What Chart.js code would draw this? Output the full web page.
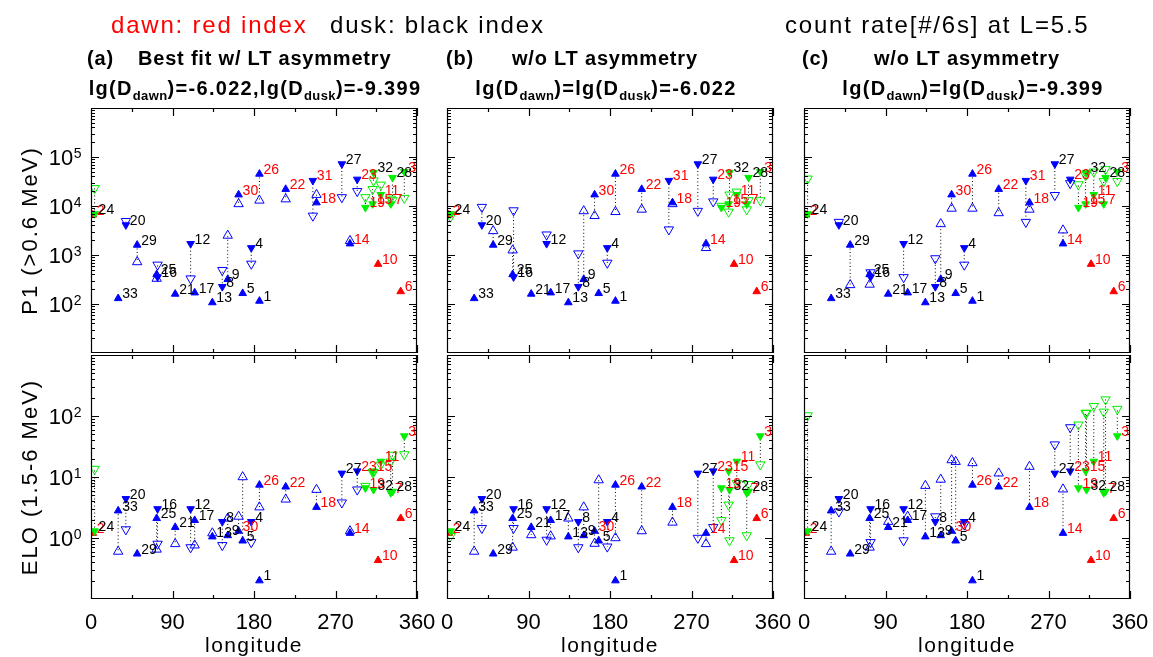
<!DOCTYPE html>
<html>
<head>
<meta charset="utf-8">
<script src="https://cdn.jsdelivr.net/npm/chart.js@4.4.1/dist/chart.umd.min.js"></script>
<style>
  html, body { margin: 0; padding: 0; background: #fff; }
  #page { position: relative; width: 1153px; height: 657px; overflow: hidden;
          font-family: "Liberation Sans", Arial, sans-serif; color: #000; }
  #page canvas { position: absolute; left: 0; top: 0; }
  .txt { position: absolute; white-space: nowrap; line-height: 1; }
  .head { font-size: 24px; letter-spacing: 1.8px; top: 12.7px; }
  .sub { font-size: 20px; font-weight: bold; letter-spacing: 0.8px; }
  .l1 { top: 48px; }
  .l2 { top: 78px; transform: translateX(-50%); letter-spacing: 1.3px; }
  .sub sub { font-size: 13px; vertical-align: -5px; letter-spacing: 0.4px; }
</style>
</head>
<body>
<div id="page">
  <canvas id="pA" width="1153" height="657"></canvas>
  <canvas id="pB" width="1153" height="657"></canvas>
  <canvas id="pC" width="1153" height="657"></canvas>
  <canvas id="eA" width="1153" height="657"></canvas>
  <canvas id="eB" width="1153" height="657"></canvas>
  <canvas id="eC" width="1153" height="657"></canvas>

  <div class="txt head" style="left:111px;color:#f00">dawn: red index</div>
  <div class="txt head" style="left:330px">dusk: black index</div>
  <div class="txt head" style="left:785px">count rate[#/6s] at L=5.5</div>

  <div class="txt sub l1" style="left:87px">(a)</div>
  <div class="txt sub l1" style="left:138px">Best fit w/ LT asymmetry</div>
  <div class="txt sub l1" style="left:446px">(b)</div>
  <div class="txt sub l1" style="left:512px">w/o LT asymmetry</div>
  <div class="txt sub l1" style="left:802px">(c)</div>
  <div class="txt sub l1" style="left:874px">w/o LT asymmetry</div>

  <div class="txt sub l2" style="left:255px">lg(D<sub>dawn</sub>)=-6.022,lg(D<sub>dusk</sub>)=-9.399</div>
  <div class="txt sub l2" style="left:606px">lg(D<sub>dawn</sub>)=lg(D<sub>dusk</sub>)=-6.022</div>
  <div class="txt sub l2" style="left:973px">lg(D<sub>dawn</sub>)=lg(D<sub>dusk</sub>)=-9.399</div>
</div>

<script>
// ---- event table (index 1..33) ----
const eventIds = Array.from({ length: 33 }, (_, i) => i + 1);

const longitude = [186, 2, 346, 177, 167.5, 342, 331, 145, 151, 317,
                   320, 110, 134, 286, 311, 73.5, 114.5, 249, 303, 38.5,
                   93, 215, 294, 4, 72.5, 186, 277, 333, 51, 163,
                   245, 312, 30];

// u = upward triangle, d = downward triangle
const markerShape = ['u','u','d','d','u','u','d','d','u','u',
                     'd','d','u','u','d','d','u','u','d','d',
                     'u','u','d','d','u','u','d','d','u','u',
                     'd','d','u'];

// b = blue, g = green, r = red (no model)
const markerColor = ['b','r','g','b','b','r','g','b','b','r',
                     'g','b','b','b','g','b','b','b','g','b',
                     'b','b','b','g','b','b','b','g','b','b',
                     'b','g','b'];

const dawnIndex = [2, 3, 6, 7, 10, 11, 14, 15, 18, 19, 22, 23, 26, 30, 31];

// ---- P1 (>0.6 MeV) count rates ----
const p1Observed = [115, 6600, 50000, 1400, 165, 180, 11000, 225, 320, 650,
                    17000, 1700, 107, 1700, 11000, 355, 170, 11700, 9300, 4100,
                    160, 22000, 35000, 6900, 400, 45000, 72000, 38000, 1600, 17000,
                    33000, 48000, 130];
const p1ModelA = [null, null, 14500, 660, null, null, 14000, 490, 2500, null,
                  27000, 330, null, 1950, 22000, 630, null, 17000, 15000, 4900,
                  null, 13800, 20000, 23000, 330, 13000, 15000, 13000, 720, 11000,
                  6300, 33000, null];
const p1ModelB = [null, null, 13000, 690, null, null, 8500, 1070, 7900, null,
                  19500, 2600, null, 1400, 7600, 8100, null, 11000, 10000, 9500,
                  null, 8500, 12300, 6000, 1250, 7600, 7900, 13000, 3100, 6300,
                  3300, 17000, null];
const p1ModelC = [null, null, 32000, 630, null, null, 32000, 850, 4300, null,
                  50000, 350, null, 3200, 42000, 440, null, 8500, 27500, 4700,
                  null, 7200, 29000, 36000, 250, 8900, 16600, 56000, 245, 8900,
                  4700, 46000, null];

// ---- ELO (1.5-6 MeV) count rates ----
const eloObserved = [0.2, 1.2, 47, 1.85, 0.9, 2.1, 5.5, 1.85, 1.1, 0.43,
                     18, 3.0, 1.05, 1.2, 12.5, 3.0, 1.95, 3.2, 6.6, 4.4,
                     1.5, 6.9, 12.5, 1.3, 2.1, 7.4, 11.5, 5.8, 0.55, 1.3,
                     null, 6.2, 2.8];
const eloModelA = [null, null, 23.5, 0.85, 10, null, 17.8, 0.76, 2.1, null,
                   15.8, 0.7, 1.2, 1.3, 12, 0.8, 0.76, 6.2, 7.1, 1.38,
                   0.8, 4.3, 6.2, 13.5, 0.65, 3.2, 3.8, 23, null, 2.25,
                   null, 12, 0.6];
const eloModelB = [null, null, 16, 0.72, 8.9, null, 1.1, 0.7, 3.2, null,
                   7.9, 0.93, 2.1, 0.8, 3.5, 1.45, 1.07, 1.8, 1.95, 1.45,
                   1.12, 1.3, 1.5, 1.07, 0.7, 1.0, 1.0, 7.6, null, 0.81,
                   null, 0.91, 0.6];
const eloModelC = [null, null, 130, 1.65, 17.8, null, 117, 2.25, 9.1, null,
                   145, 0.91, 7.2, 6.3, 112, 0.85, 2.25, 14.8, 72, 2.7,
                   1.85, 11.5, 65, 102, 0.7, 17, 34, 186, null, 19,
                   null, 112, 0.6];

// ---- axes ----
const lonTicks = [0, 90, 180, 270, 360];
const lonMinor = [45, 135, 225, 315];
const p1Decades = [2, 3, 4, 5];
const eloDecades = [0, 1, 2];
const xTitle = 'longitude';
const p1Title = 'P1 (>0.6 MeV)';
const eloTitle = 'ELO (1.5-6 MeV)';

const FONT = '"Liberation Sans", Arial, sans-serif';
const MARK = { b: '#0000ff', g: '#00ee00', r: '#ff0000' };

const colLeft = [91, 447, 804];
const colRight = [417, 773, 1130];
const rowTop = [108, 355];
const rowBottom = [353, 599];

// inward IDL-style frame ticks on all four sides
const frameTicks = {
  id: 'frameTicks',
  afterDatasetsDraw(chart) {
    const { ctx, chartArea: a, scales: { x, y } } = chart;
    ctx.save();
    ctx.strokeStyle = '#000';
    ctx.lineWidth = 1.2;
    ctx.beginPath();
    ctx.rect(a.left + 0.5, a.top + 0.5, a.right - a.left - 1, a.bottom - a.top - 1);
    const xt = (v, len) => {
      const px = Math.round(x.getPixelForValue(v)) + 0.5;
      ctx.moveTo(px, a.bottom); ctx.lineTo(px, a.bottom - len);
      ctx.moveTo(px, a.top); ctx.lineTo(px, a.top + len);
    };
    lonTicks.forEach(v => xt(v, 8));
    lonMinor.forEach(v => xt(v, 4));
    const lo = Math.round(Math.log10(y.min)), hi = Math.round(Math.log10(y.max));
    for (let k = lo; k <= hi; k++) {
      for (let m = 1; m <= 9; m++) {
        const v = m * Math.pow(10, k);
        if (v <= y.min * 1.0001 || v >= y.max * 0.9999) continue;
        const len = m === 1 ? 8 : 4;
        const py = Math.round(y.getPixelForValue(v)) + 0.5;
        ctx.moveTo(a.left, py); ctx.lineTo(a.left + len, py);
        ctx.moveTo(a.right, py); ctx.lineTo(a.right - len, py);
      }
    }
    ctx.stroke();
    ctx.restore();
  }
};

// event numbers next to the observed markers
const indexLabels = {
  id: 'indexLabels',
  afterDatasetsDraw(chart, args, opts) {
    const { ctx, scales: { x, y } } = chart;
    ctx.save();
    ctx.font = '14px ' + FONT;
    ctx.textBaseline = 'middle';
    ctx.textAlign = 'left';
    opts.items.forEach(it => {
      ctx.fillStyle = it.color;
      ctx.fillText(it.text, x.getPixelForValue(it.x) + 4, y.getPixelForValue(it.y) - 4);
    });
    ctx.restore();
  }
};

// power-of-ten tick labels, axis titles
const axisText = {
  id: 'axisText',
  afterDraw(chart, args, opts) {
    const { ctx, chartArea: a, scales: { x, y } } = chart;
    ctx.save();
    ctx.fillStyle = '#000';
    ctx.textBaseline = 'alphabetic';
    if (opts.decades) {
      opts.decades.forEach(k => {
        const py = y.getPixelForValue(Math.pow(10, k));
        ctx.textAlign = 'left';
        ctx.font = '22px ' + FONT;
        const w10 = ctx.measureText('10').width;
        ctx.font = '14px ' + FONT;
        const we = ctx.measureText(String(k)).width;
        const x0 = a.left - 10 - we - w10;
        ctx.font = '22px ' + FONT;
        ctx.fillText('10', x0, py + 8);
        ctx.font = '14px ' + FONT;
        ctx.fillText(String(k), x0 + w10 + 0.5, py + 1);
      });
    }
    if (opts.title) {
      ctx.save();
      ctx.translate(37, (a.top + a.bottom) / 2);
      ctx.rotate(-Math.PI / 2);
      ctx.font = '22px ' + FONT;
      ctx.letterSpacing = '2px';
      ctx.textAlign = 'center';
      ctx.fillText(opts.title, 0, 0);
      ctx.restore();
    }
    if (opts.lonLabels) {
      ctx.textAlign = 'center';
      ctx.font = '22px ' + FONT;
      lonTicks.forEach(v => ctx.fillText(String(v), x.getPixelForValue(v), 629));
      ctx.font = '21px ' + FONT;
      ctx.letterSpacing = '1.4px';
      ctx.fillText(xTitle, (a.left + a.right) / 2, 652);
    }
    ctx.restore();
  }
};

function collect(values, test) {
  const out = [];
  eventIds.forEach((id, i) => {
    if (values[i] != null && test(i)) out.push({ x: longitude[i], y: values[i] });
  });
  return out;
}

function markerSet(values, color, shape, filled) {
  return {
    type: 'scatter',
    data: collect(values, i => markerColor[i] === color && markerShape[i] === shape),
    pointStyle: 'triangle',
    pointRotation: shape === 'd' ? 180 : 0,
    pointRadius: filled ? 4.4 : 5.4,
    pointBackgroundColor: filled ? MARK[color] : 'rgba(0,0,0,0)',
    pointBorderColor: MARK[color],
    pointBorderWidth: 1,
    clip: 0,
    order: filled ? 1 : 2
  };
}

function makePanel(id, col, row, observed, model, opts) {
  // dotted connectors between observed and modelled rates
  const links = [];
  eventIds.forEach((ev, i) => {
    if (observed[i] == null || model[i] == null) return;
    links.push({ x: longitude[i], y: observed[i] }, { x: longitude[i], y: model[i] }, { x: longitude[i], y: null });
  });

  const labels = [];
  eventIds.forEach((ev, i) => {
    if (observed[i] == null) return;
    labels.push({ x: longitude[i], y: observed[i], text: String(ev),
                  color: dawnIndex.includes(ev) ? '#ff0000' : '#000000' });
  });

  const datasets = [
    { type: 'line', data: links, borderColor: '#000', borderWidth: 1, borderDash: [1, 2.5],
      pointRadius: 0, spanGaps: false, fill: false, clip: 0, order: 3 },
    markerSet(model, 'b', 'u', false),
    markerSet(model, 'b', 'd', false),
    markerSet(model, 'g', 'd', false),
    markerSet(observed, 'b', 'u', true),
    markerSet(observed, 'b', 'd', true),
    markerSet(observed, 'g', 'd', true),
    markerSet(observed, 'r', 'u', true)
  ];

  new Chart(document.getElementById(id), {
    type: 'scatter',
    data: { datasets },
    plugins: [frameTicks, indexLabels, axisText],
    options: {
      responsive: false,
      animation: false,
      events: [],
      layout: { padding: { left: colLeft[col], right: 1153 - colRight[col],
                           top: rowTop[row], bottom: 657 - rowBottom[row] } },
      scales: {
        x: { type: 'linear', min: 0, max: 360, display: false },
        y: { type: 'logarithmic', min: opts.yMin, max: opts.yMax, display: false }
      },
      plugins: {
        legend: { display: false },
        tooltip: { enabled: false },
        indexLabels: { items: labels },
        axisText: opts.axis
      }
    }
  });
}

makePanel('pA', 0, 0, p1Observed, p1ModelA, { yMin: 10, yMax: 1e6, axis: { decades: p1Decades, title: p1Title } });
makePanel('pB', 1, 0, p1Observed, p1ModelB, { yMin: 10, yMax: 1e6, axis: {} });
makePanel('pC', 2, 0, p1Observed, p1ModelC, { yMin: 10, yMax: 1e6, axis: {} });
makePanel('eA', 0, 1, eloObserved, eloModelA, { yMin: 0.1, yMax: 1000, axis: { decades: eloDecades, title: eloTitle, lonLabels: true } });
makePanel('eB', 1, 1, eloObserved, eloModelB, { yMin: 0.1, yMax: 1000, axis: { lonLabels: true } });
makePanel('eC', 2, 1, eloObserved, eloModelC, { yMin: 0.1, yMax: 1000, axis: { lonLabels: true } });
</script>
</body>
</html>
